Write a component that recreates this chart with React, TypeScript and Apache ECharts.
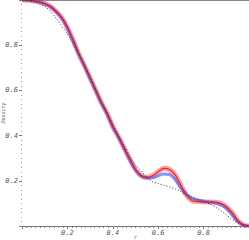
import React, { useEffect, useRef } from "react";
import * as echarts from "echarts";

const xs = [
  0, 0.025, 0.05, 0.075, 0.1, 0.125, 0.15, 0.175, 0.2, 0.225, 0.25, 0.275, 0.3, 0.325, 0.35, 0.375,
  0.4, 0.425, 0.45, 0.475, 0.5, 0.525, 0.55, 0.575, 0.6, 0.625, 0.65, 0.675, 0.7, 0.725, 0.75,
  0.775, 0.8, 0.825, 0.85, 0.875, 0.9, 0.925, 0.95, 0.975, 1.0,
];
const redY = [
  1.0, 0.999, 0.996, 0.992, 0.984, 0.972, 0.95, 0.922, 0.878, 0.823, 0.762, 0.71, 0.655, 0.6, 0.545,
  0.498, 0.44, 0.395, 0.345, 0.295, 0.25, 0.222, 0.215, 0.222, 0.24, 0.255, 0.25, 0.226, 0.18,
  0.135, 0.112, 0.108, 0.106, 0.106, 0.105, 0.1, 0.085, 0.06, 0.025, 0.005, 0.0,
];
const blueY = [
  1.0, 0.999, 0.996, 0.992, 0.983, 0.97, 0.948, 0.92, 0.876, 0.82, 0.76, 0.707, 0.652, 0.598, 0.543,
  0.495, 0.438, 0.392, 0.342, 0.293, 0.248, 0.222, 0.212, 0.213, 0.222, 0.23, 0.228, 0.205, 0.168,
  0.14, 0.123, 0.115, 0.11, 0.106, 0.102, 0.095, 0.078, 0.05, 0.02, 0.004, 0.0,
];
const blackY = [
  1.0, 0.998, 0.992, 0.983, 0.972, 0.95, 0.92, 0.885, 0.85, 0.805, 0.76, 0.71, 0.66, 0.605, 0.55,
  0.5, 0.45, 0.4, 0.355, 0.31, 0.27, 0.245, 0.215, 0.196, 0.188, 0.18, 0.173, 0.164, 0.152, 0.138,
  0.127, 0.117, 0.108, 0.098, 0.085, 0.068, 0.05, 0.03, 0.015, 0.004, 0.0,
];
const xTicks = [0.2, 0.4, 0.6, 0.8];
const yTicks = [0.2, 0.4, 0.6, 0.8];

const pair = (ys: number[]) => xs.map((x, i) => [x, ys[i]]);

export default function App() {
  const ref = useRef<HTMLDivElement>(null);
  useEffect(() => {
    if (!ref.current) return;
    const chart = echarts.init(ref.current, undefined, { renderer: "svg" });
    const labelStyle = {
      fontSize: 7,
      fontStyle: "italic" as const,
      color: "#555",
      fontFamily: "DejaVu Sans Mono",
    };
    chart.setOption({
      animation: false,
      grid: { left: 22, right: 0, top: 0, bottom: 14, containLabel: false, outerBoundsMode: "none" },
      xAxis: [
        {
          type: "value",
          min: 0,
          max: 1,
          interval: 0.2,
          name: "r",
          nameLocation: "middle",
          nameGap: 8,
          nameMoveOverlap: false,
          nameTextStyle: { ...labelStyle, fontSize: 5 },
          axisLine: { show: true, lineStyle: { color: "#777", width: 1 } },
          axisTick: { show: true, inside: false, length: 3, lineStyle: { color: "#777" } },
          minorTick: { show: true, splitNumber: 10, length: 2, lineStyle: { color: "#888" } },
          splitLine: { show: false },
          axisLabel: {
            ...labelStyle,
            margin: 3,
            formatter: (v: number) => (xTicks.some((t) => Math.abs(t - v) < 1e-6) ? v.toFixed(1) : ""),
          },
        },
        {
          type: "value",
          position: "top",
          min: 0,
          max: 1,
          axisLine: { show: true, lineStyle: { color: "#888", width: 2 } },
          axisTick: { show: false },
          axisLabel: { show: false },
          splitLine: { show: false },
        },
      ],
      yAxis: {
        type: "value",
        min: 0,
        max: 1,
        interval: 0.2,
        name: "Density",
        nameLocation: "middle",
        nameGap: 17,
        nameMoveOverlap: false,
        nameRotate: 90,
        nameTextStyle: { ...labelStyle, fontSize: 5 },
        axisLine: { show: false },
        axisTick: { show: true, length: 3, lineStyle: { color: "#777" } },
        minorTick: { show: true, splitNumber: 10, length: 1, lineStyle: { color: "#999" } },
        splitLine: { show: false },
        axisLabel: {
          ...labelStyle,
          margin: 4,
          formatter: (v: number) => (yTicks.some((t) => Math.abs(t - v) < 1e-6) ? v.toFixed(1) : ""),
        },
      },
      series: [
        {
          type: "line",
          data: pair(redY),
          showSymbol: false,
          smooth: 0.3,
          lineStyle: { color: "rgba(255,40,40,0.45)", width: 5 },
          z: 2,
        },
        {
          type: "line",
          data: pair(blueY),
          showSymbol: false,
          smooth: 0.3,
          lineStyle: { color: "rgba(70,90,255,0.65)", width: 3 },
          z: 3,
        },
        {
          type: "line",
          data: pair(redY),
          showSymbol: false,
          smooth: 0.3,
          lineStyle: { color: "rgba(230,0,0,0.75)", width: 1.2 },
          z: 4,
        },
        {
          type: "line",
          data: pair(blackY),
          showSymbol: false,
          smooth: 0.3,
          lineStyle: { color: "#333", width: 1, type: [1, 2] },
          z: 5,
        },
      ],
    });
    return () => chart.dispose();
  }, []);
  return (
    <div
      ref={ref}
      style={{ position: "fixed", left: 0, top: 0, width: 249, height: 240, background: "#fff" }}
    />
  );
}
